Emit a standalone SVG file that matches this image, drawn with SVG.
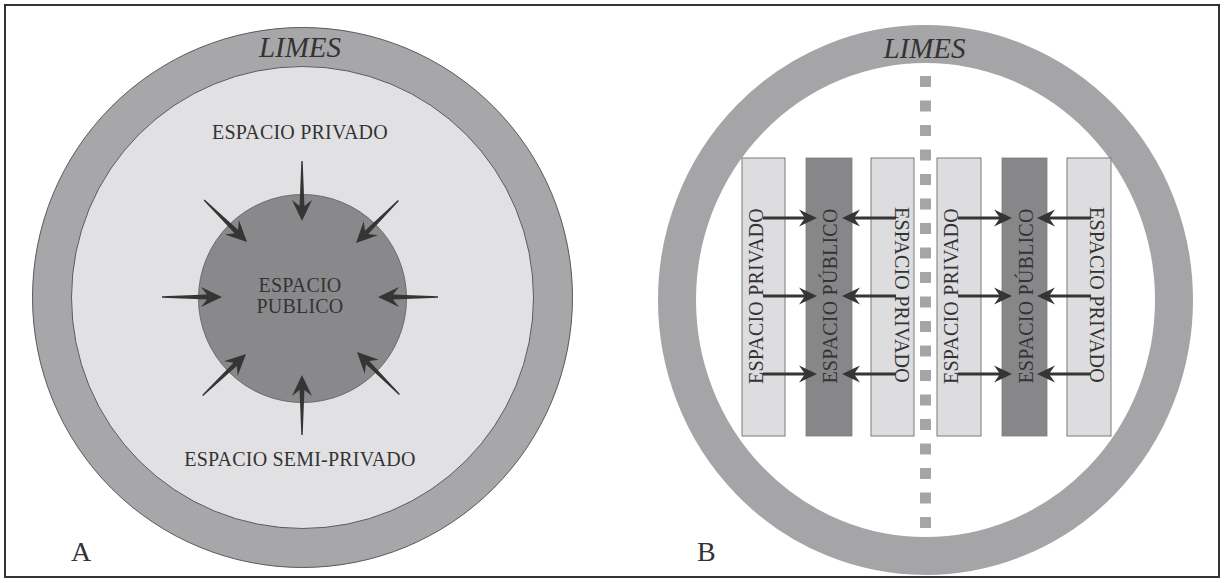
<svg xmlns="http://www.w3.org/2000/svg" width="1225" height="583" viewBox="0 0 1225 583">
<style>
.t{font-family:"Liberation Serif","Times New Roman",serif;fill:#333;}
.lim{font-family:"Liberation Serif","Times New Roman",serif;font-style:italic;font-size:29px;fill:#333;text-anchor:middle;}
.lab{font-size:20px;text-anchor:middle;letter-spacing:0.2px;}
.big{font-size:28px;}
.light{fill:#dddddf;stroke:#7a7a7c;stroke-width:1;}
.dark{fill:#878789;stroke:#7a7a7c;stroke-width:0.8;}
.arr{fill:#353535;}
</style>
<defs>
<path id="a1" d="M-60,-0.7 L-15,-2.4 L-21,-10 L0,0 L-21,10 L-15,2.4 L-60,0.7 Z"/>
<path id="a2" d="M-54,-1.4 L-13,-1.6 L-18,-8.5 L0,0 L-18,8.5 L-13,1.6 L-54,1.4 Z"/>
</defs>
<rect x="5" y="5" width="1214" height="572" fill="#fff" stroke="#333" stroke-width="2"/>

<g id="panelA">
<g id="limesA">
<circle cx="302.5" cy="297.5" r="270" fill="#a7a7a9" stroke="#5a5a5c" stroke-width="1"/>
<text class="lim" x="300" y="57">LIMES</text>
</g>
<g id="privadoA">
<circle cx="302.5" cy="297.5" r="231" fill="#e1e1e3" stroke="#5a5a5c" stroke-width="1"/>
<text class="t lab" x="300" y="139">ESPACIO PRIVADO</text>
<text class="t lab" x="300" y="466">ESPACIO SEMI-PRIVADO</text>
</g>
<g id="publicoA">
<circle cx="302.5" cy="298.5" r="104" fill="#89898b" stroke="#6a6a6c" stroke-width="1"/>
<text class="t lab" x="300" y="291.5">ESPACIO</text>
<text class="t lab" x="300" y="312.5">PUBLICO</text>
</g>
<text class="t big" x="71" y="561">A</text>
</g>

<g id="connectorsA" class="arr">
<use href="#a1" transform="translate(302,221) rotate(90)"/>
<use href="#a1" transform="translate(302,375) rotate(-90)"/>
<use href="#a1" transform="translate(222,297)"/>
<use href="#a1" transform="translate(378,297) rotate(180)"/>
<use href="#a1" transform="translate(247,242) rotate(44.4)"/>
<use href="#a1" transform="translate(356,243) rotate(135)"/>
<use href="#a1" transform="translate(246,354) rotate(-43.7)"/>
<use href="#a1" transform="translate(357,352) rotate(-135)"/>
</g>

<g id="panelB">
<g id="limesB">
<ellipse cx="925.5" cy="300" rx="248.5" ry="256" fill="none" stroke="#a5a5a7" stroke-width="38"/>
<text class="lim" x="924.5" y="58">LIMES</text>
</g>
<line id="divisoria" x1="925.5" y1="76" x2="925.5" y2="530" stroke="#a5a5a7" stroke-width="11" stroke-dasharray="11 13.5"/>
<g id="priv1"><rect class="light" x="742" y="158" width="43" height="278"/>
<text class="t lab" transform="translate(763,296) rotate(-90)">ESPACIO PRIVADO</text></g>
<g id="pub1"><rect class="dark" x="806" y="158" width="46" height="278"/>
<text class="t lab" transform="translate(837,296) rotate(-90)">ESPACIO PÚBLICO</text></g>
<g id="priv2"><rect class="light" x="871" y="158" width="43" height="278"/>
<text class="t lab" transform="translate(895,295) rotate(90)">ESPACIO PRIVADO</text></g>
<g id="priv3"><rect class="light" x="937" y="158" width="44" height="278"/>
<text class="t lab" transform="translate(958,296) rotate(-90)">ESPACIO PRIVADO</text></g>
<g id="pub2"><rect class="dark" x="1002" y="158" width="45" height="278"/>
<text class="t lab" transform="translate(1033,296) rotate(-90)">ESPACIO PÚBLICO</text></g>
<g id="priv4"><rect class="light" x="1067" y="158" width="44" height="278"/>
<text class="t lab" transform="translate(1090,295) rotate(90)">ESPACIO PRIVADO</text></g>
<text class="t big" x="697" y="561">B</text>
</g>

<g id="connectorsB" class="arr">
<use href="#a2" transform="translate(817,218)"/>
<use href="#a2" transform="translate(817,296)"/>
<use href="#a2" transform="translate(817,374)"/>
<use href="#a2" transform="translate(842,218) rotate(180)"/>
<use href="#a2" transform="translate(842,296) rotate(180)"/>
<use href="#a2" transform="translate(842,374) rotate(180)"/>
<use href="#a2" transform="translate(1012,218)"/>
<use href="#a2" transform="translate(1012,296)"/>
<use href="#a2" transform="translate(1012,374)"/>
<use href="#a2" transform="translate(1037,218) rotate(180)"/>
<use href="#a2" transform="translate(1037,296) rotate(180)"/>
<use href="#a2" transform="translate(1037,374) rotate(180)"/>
</g>
</svg>
